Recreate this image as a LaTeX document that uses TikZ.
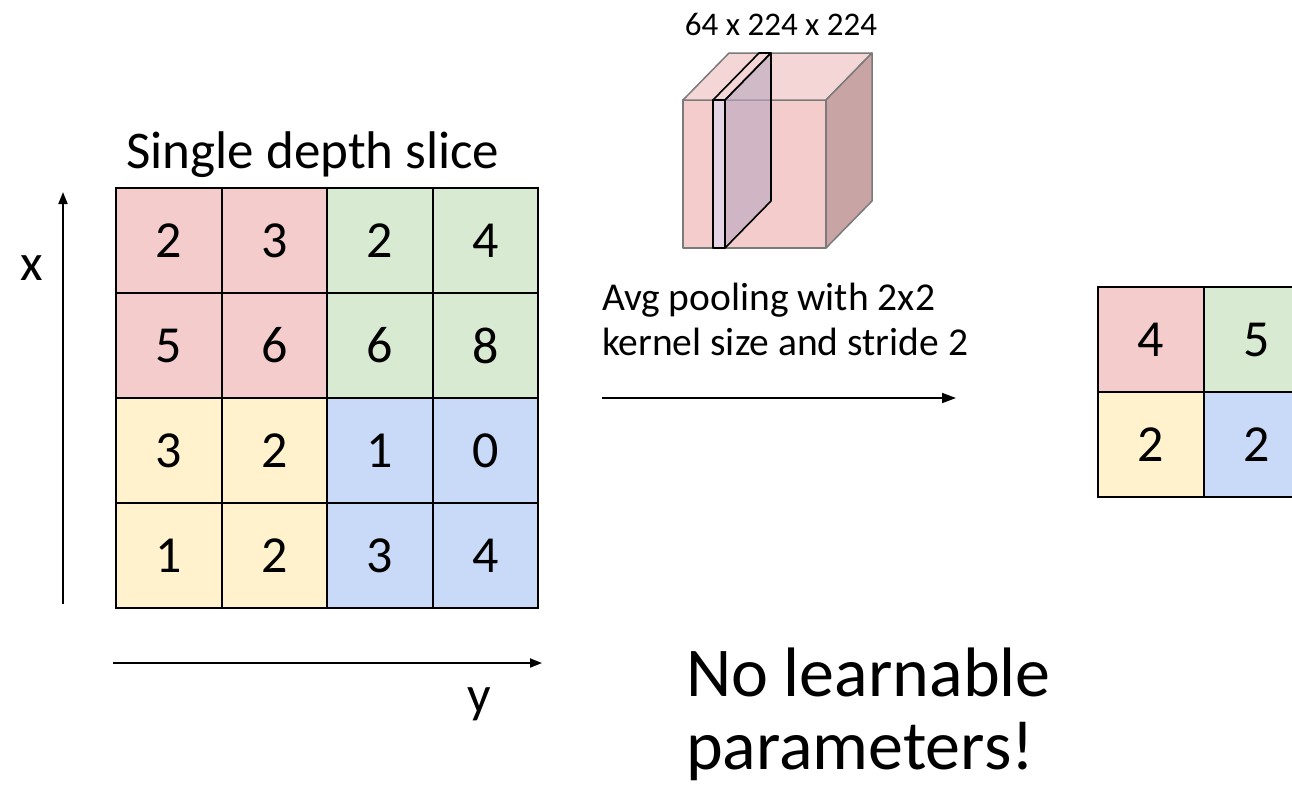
\documentclass[tikz,border=0pt]{standalone}
\usepackage{fontspec}
\setmainfont{Carlito}
\usetikzlibrary{arrows.meta}
\definecolor{cellred}{HTML}{F4CCCC}
\definecolor{cellgreen}{HTML}{D9EAD3}
\definecolor{cellyellow}{HTML}{FFF2CC}
\definecolor{cellblue}{HTML}{C9DAF8}
\definecolor{cubefront}{HTML}{F4CCCC}
\definecolor{cubetop}{HTML}{F5D6D6}
\definecolor{cubeside}{HTML}{C9A4A4}
\definecolor{cubeedge}{HTML}{7A7A7A}
\definecolor{slicefront}{HTML}{E4D4E4}
\definecolor{sliceside}{HTML}{B8A8C0}
\begin{document}
\begin{tikzpicture}[x=1pt,y=-1pt,
  cell/.style={minimum width=105.5pt, minimum height=105pt,
    inner sep=0pt, outer sep=0pt, font=\fontsize{52}{62}\selectfont},
  smallcell/.style={cell, minimum width=106pt},
  cellborder/.style={draw=black, line width=2pt},
  axis/.style={line width=1.8pt, -{Triangle[length=12pt,width=9pt]}},
  label/.style={inner sep=0pt, outer sep=0pt},
  cubeface/.style={draw=cubeedge, line width=1.5pt, line join=round},
  sliceface/.style={draw=black, line width=1.6pt, line join=round}]
\useasboundingbox (0,0) rectangle (1292,785);
\clip (0,0) rectangle (1292,785);

% input slice, 4x4: fills first, borders on top
\foreach \r/\y in {1/240.5, 2/345.5, 3/450.5, 4/555.5}{
  \foreach \c/\x in {1/168.75, 2/274.25, 3/379.75, 4/485.25}{
    \pgfmathtruncatemacro{\q}{(\r>2)*2 + (\c>2)}
    \ifcase\q \def\fc{cellred}\or \def\fc{cellgreen}\or \def\fc{cellyellow}\or \def\fc{cellblue}\fi
    \node[cell, fill=\fc] (a\r\c) at (\x,\y) {};
  }
}
\foreach \r in {1,...,4}{
  \foreach \c in {1,...,4}{
    \draw[cellborder] (a\r\c.south west) rectangle (a\r\c.north east);
  }
}
\node[font=\fontsize{52}{62}\selectfont] at (a11) {2};
\node[font=\fontsize{52}{62}\selectfont] at (a12) {3};
\node[font=\fontsize{52}{62}\selectfont] at (a13) {2};
\node[font=\fontsize{52}{62}\selectfont] at (a14) {4};
\node[font=\fontsize{52}{62}\selectfont] at (a21) {5};
\node[font=\fontsize{52}{62}\selectfont] at (a22) {6};
\node[font=\fontsize{52}{62}\selectfont] at (a23) {6};
\node[font=\fontsize{52}{62}\selectfont] at (a24) {8};
\node[font=\fontsize{52}{62}\selectfont] at (a31) {3};
\node[font=\fontsize{52}{62}\selectfont] at (a32) {2};
\node[font=\fontsize{52}{62}\selectfont] at (a33) {1};
\node[font=\fontsize{52}{62}\selectfont] at (a34) {0};
\node[font=\fontsize{52}{62}\selectfont] at (a41) {1};
\node[font=\fontsize{52}{62}\selectfont] at (a42) {2};
\node[font=\fontsize{52}{62}\selectfont] at (a43) {3};
\node[font=\fontsize{52}{62}\selectfont] at (a44) {4};

\node[label, anchor=base, font=\fontsize{53}{63}\selectfont] (title) at (313,168) {Single depth slice};

% axes
\coordinate (xfrom) at (63,604);
\coordinate (xto) at (63,192);
\coordinate (yfrom) at (113,663);
\coordinate (yto) at (542,663);
\draw[axis] (xfrom) -- (xto);
\draw[axis] (yfrom) -- (yto);
\node[label, font=\fontsize{52}{62}\selectfont] (xlab) at (32,268) {x};
\node[label, anchor=base, font=\fontsize{52}{62}\selectfont] (ylab) at (479,712) {y};

% activation volume with one depth slice
\filldraw[cubeface, fill=cubefront] (683,100) rectangle (826,248);
\filldraw[cubeface, fill=cubetop] (683,100) -- (729,53) -- (872,53) -- (826,100) -- cycle;
\filldraw[cubeface, fill=cubeside] (826,100) -- (872,53) -- (872,201) -- (826,248) -- cycle;
\filldraw[sliceface, fill=slicefront] (713,100) rectangle (725,248);
\filldraw[sliceface, fill=cubetop] (713,100) -- (759,53) -- (771,53) -- (725,100) -- cycle;
\filldraw[sliceface, fill=sliceside, fill opacity=0.6] (725,100) -- (771,53) -- (771,201) -- (725,248) -- cycle;
\node[label, anchor=base, font=\fontsize{33}{40}\selectfont] (dims) at (781,35) {64 x 224 x 224};

% pooling operation
\node[label, anchor=base west, font=\fontsize{39.5}{45}\selectfont] (op1) at (602,310) {Avg pooling with 2x2};
\node[label, anchor=base west, font=\fontsize{39.5}{45}\selectfont] (op2) at (602,355) {kernel size and stride 2};
\coordinate (pfrom) at (602,398);
\coordinate (pto) at (956,398);
\draw[line width=1.8pt, -{Triangle[length=14pt,width=10pt]}] (pfrom) -- (pto);

% pooled output, 2x2
\node[smallcell, fill=cellred] (b11) at (1151,339.5) {};
\node[smallcell, fill=cellgreen] (b12) at (1257,339.5) {};
\node[smallcell, fill=cellyellow] (b21) at (1151,444.5) {};
\node[smallcell, fill=cellblue] (b22) at (1257,444.5) {};
\foreach \n in {b11,b12,b21,b22}{
  \draw[cellborder] (\n.south west) rectangle (\n.north east);
}
\node[font=\fontsize{52}{62}\selectfont] at (b11) {4};
\node[font=\fontsize{52}{62}\selectfont] at (b12) {5};
\node[font=\fontsize{52}{62}\selectfont] at (b21) {2};
\node[font=\fontsize{52}{62}\selectfont] at (b22) {2};

\node[label, anchor=base west, font=\fontsize{70}{84}\selectfont] (note1) at (686,696) {No learnable};
\node[label, anchor=base west, font=\fontsize{70}{84}\selectfont] (note2) at (686,769) {parameters!};
\end{tikzpicture}
\end{document}
